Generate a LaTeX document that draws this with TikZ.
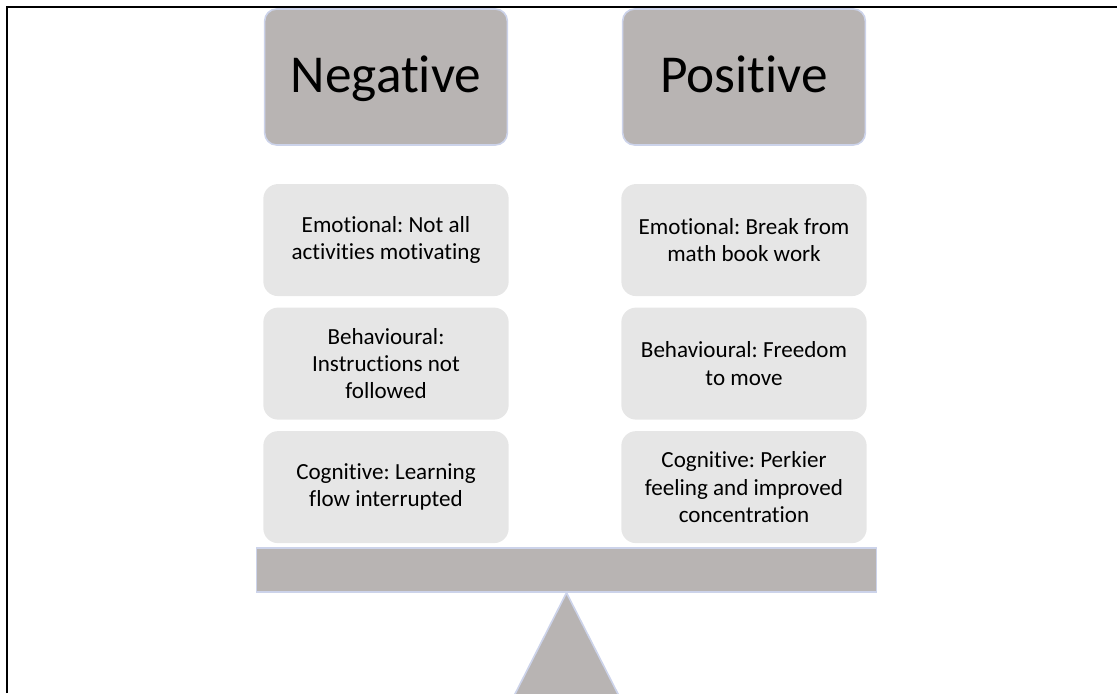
\documentclass[tikz,border=0pt]{standalone}
\usepackage{fontspec}
\setmainfont{Carlito}[Ligatures=NoCommon]
\usetikzlibrary{positioning}
\frenchspacing

\definecolor{headgrey}{HTML}{B8B4B3}
\definecolor{boxgrey}{HTML}{E6E6E6}
\definecolor{edgeblue}{HTML}{CCD3EA}

\begin{document}
\begin{tikzpicture}[
    x=0.75pt, y=-0.75pt, % one unit is one pixel, y runs downwards
    node distance=8.25pt, % gap between the stacked boxes
    headbox/.style={draw=edgeblue, line width=1.2pt, fill=headgrey, rounded corners=9pt,
        minimum width=182pt, minimum height=102pt, text height=30pt, text depth=7.5pt,
        font=\fontsize{40}{48}\selectfont},
    itembox/.style={fill=boxgrey, rounded corners=11pt, align=center,
        minimum width=184pt, minimum height=84pt, font=\fontsize{17.3}{20.5}\selectfont},
    scalepart/.style={draw=edgeblue, line width=1.2pt, fill=headgrey}
]
\useasboundingbox (0,0) rectangle (1117,693);

% frame along the top and left edge
\draw[line width=1.5pt] (6.5,693) -- (6.5,7) -- (1117,7);

% column headers
\node (neg_head) [headbox] at (386,77) {Negative};
\node (pos_head) [headbox] at (744,77) {Positive};

% negative side
\node (neg_emo) [itembox, below=28.5pt of neg_head] {Emotional: Not all\\activities motivating};
\node (neg_beh) [itembox, below=of neg_emo] {Behavioural:\\Instructions not\\followed};
\node (neg_cog) [itembox, below=of neg_beh] {Cognitive: Learning\\flow interrupted};

% positive side
\node (pos_emo) [itembox, below=28.5pt of pos_head] {Emotional: Break from\\math book work};
\node (pos_beh) [itembox, below=of pos_emo] {Behavioural: Freedom\\to move};
\node (pos_cog) [itembox, below=of pos_beh] {Cognitive: Perkier\\feeling and improved\\concentration};

% the balance: beam resting on a pivot
\node (beam) [scalepart, minimum width=465pt, minimum height=33pt, inner sep=0pt] at (566.5,570) {};
\draw[scalepart] (beam.south) -- ++(-56,110) -- ++(112,0) -- cycle;

\end{tikzpicture}
\end{document}
